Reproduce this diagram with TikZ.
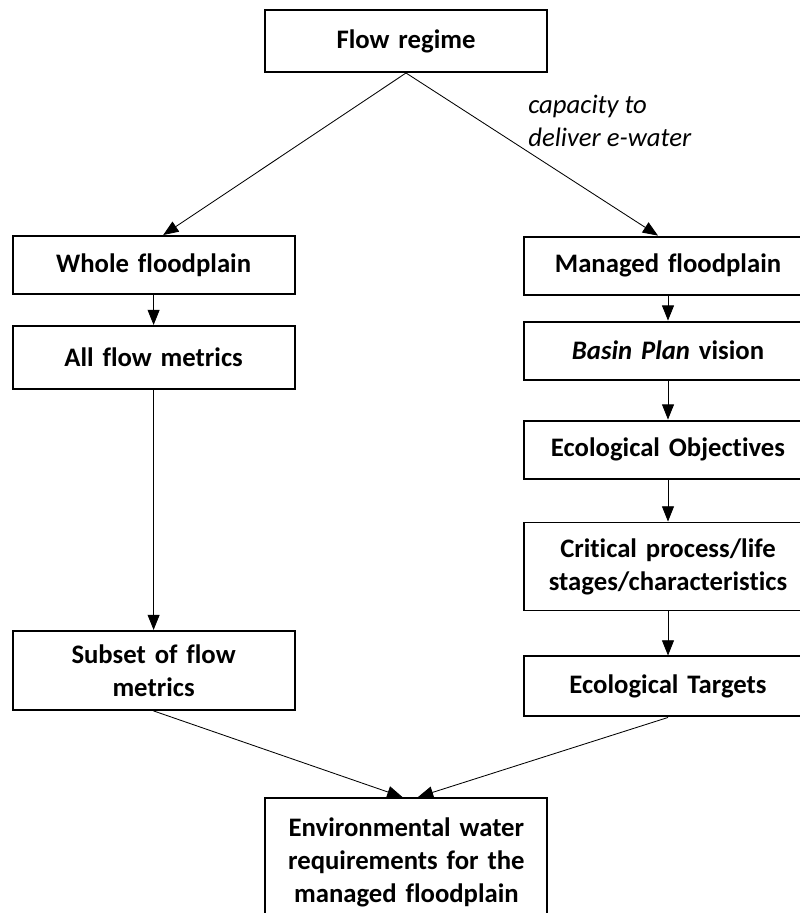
\documentclass[tikz,border=0pt]{standalone}
\usepackage{fontspec}
\setmainfont{Carlito}[Ligatures=NoCommon]
\usetikzlibrary{arrows.meta,positioning,calc}

\begin{document}
\begin{tikzpicture}[
    box/.style={
        rectangle,
        draw=black,
        line width=1.4pt,
        text width=6.85cm,
        minimum height=1.45cm,
        inner sep=0.1cm,
        align=center,
        font=\fontsize{19}{23.5}\selectfont\bfseries
    },
    note/.style={
        align=left,
        inner sep=0pt,
        font=\fontsize{19}{23.5}\selectfont\itshape
    },
    line/.style={draw, line width=0.6pt, -{Triangle[length=0.38cm,width=0.3cm]}}
]

\useasboundingbox (0,0) rectangle (20,-22.825);

% Top
\node [box, minimum height=1.55cm] (flow) at (10.15,-1.025) {Flow regime};

% Whole floodplain branch
\node [box] (whole) at (3.84,-6.625) {Whole floodplain};
\node [box, minimum height=1.575cm, below=0.75cm of whole] (allflow) {All flow metrics};
\node [box, minimum height=1.975cm, below=6cm of allflow] (subset) {Subset of flow\\metrics};

% Managed floodplain branch
\node [box, text width=7cm] (managed) at (16.7,-6.64) {Managed floodplain};
\node [box, text width=7cm, below=0.625cm of managed] (basin) {\textit{Basin Plan} vision};
\node [box, text width=7cm, below=0.975cm of basin] (ecoobj) {Ecological Objectives};
\node [box, text width=7cm, minimum height=2.2cm, below=1.05cm of ecoobj] (critical) {Critical process/life\\stages/characteristics};
\node [box, text width=7cm, minimum height=1.5cm, below=1.1cm of critical] (targets) {Ecological Targets};

% Result
\node [box, minimum height=3.2cm] (envwater) at (10.16,-21.55) {Environmental water\\requirements for the\\managed floodplain};

% Label
\node [note, anchor=west] (capacity) at (13.2,-3.03) {capacity to\\deliver e-water};

% Connections
\draw [line] (flow.south) -- ($(whole.north)+(0.24,0)$);
\draw [line] (flow.south) -- ($(managed.north)+(-0.25,0)$);
\draw [line] (whole) -- (allflow);
\draw [line] (allflow) -- (subset);
\draw [line] (managed) -- (basin);
\draw [line] (basin) -- (ecoobj);
\draw [line] (ecoobj) -- (critical);
\draw [line] (critical) -- (targets);
\draw [line] (subset.south) -- ($(envwater.north)+(-0.1,0)$);
\draw [line] (targets.south) -- ($(envwater.north)+(0.29,0)$);

\end{tikzpicture}
\end{document}
